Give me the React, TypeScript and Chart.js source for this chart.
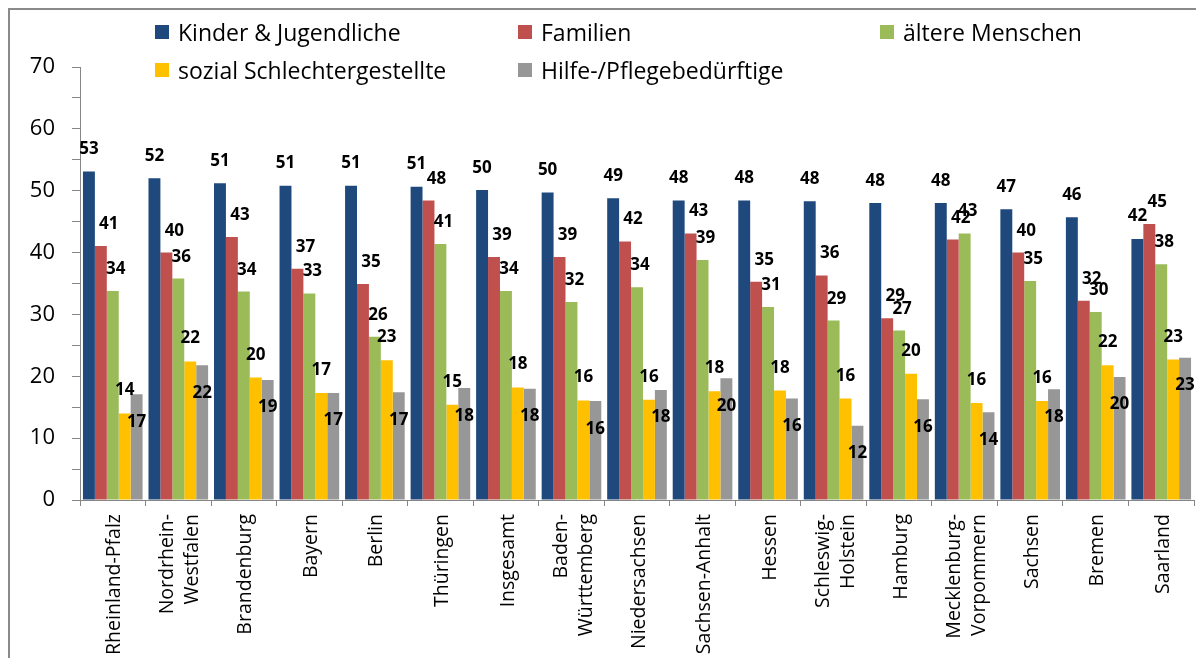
import React, { useEffect, useRef } from 'react';
import { Chart, registerables } from 'chart.js';

Chart.register(...registerables);

// ---- Data ----
const categories = [
  'Rheinland-Pfalz',
  'Nordrhein-\nWestfalen',
  'Brandenburg',
  'Bayern',
  'Berlin',
  'Thüringen',
  'Insgesamt',
  'Baden-\nWürttemberg',
  'Niedersachsen',
  'Sachsen-Anhalt',
  'Hessen',
  'Schleswig-\nHolstein',
  'Hamburg',
  'Mecklenburg-\nVorpommern',
  'Sachsen',
  'Bremen',
  'Saarland',
];

const seriesNames = [
  'Kinder & Jugendliche',
  'Familien',
  'ältere Menschen',
  'sozial Schlechtergestellte',
  'Hilfe-/Pflegebedürftige',
];

const kinderJugendliche = [53.1, 52.0, 51.2, 50.8, 50.8, 50.65, 50.1, 49.7, 48.8, 48.4, 48.4, 48.3, 48.0, 48.0, 47.0, 45.7, 42.2];
const familien = [41.06, 40.0, 42.5, 37.4, 34.9, 48.4, 39.3, 39.3, 41.8, 43.1, 35.3, 36.3, 29.4, 42.1, 40.0, 32.2, 44.6];
const aeltereMenschen = [33.8, 35.8, 33.7, 33.4, 26.4, 41.4, 33.8, 32.0, 34.4, 38.8, 31.2, 29.0, 27.4, 43.1, 35.4, 30.4, 38.1];
const sozialSchlechtergestellte = [14.0, 22.4, 19.8, 17.3, 22.6, 15.4, 18.2, 16.1, 16.2, 17.6, 17.7, 16.4, 20.4, 15.7, 16.0, 21.8, 22.7];
const hilfePflegebeduerftige = [17.1, 21.8, 19.4, 17.3, 17.4, 18.1, 18.0, 16.0, 17.8, 19.7, 16.4, 12.0, 16.3, 14.2, 17.9, 19.9, 23.0];

const seriesValues = [kinderJugendliche, familien, aeltereMenschen, sozialSchlechtergestellte, hilfePflegebeduerftige];

const titleText = 'Zielgruppen des Engagements nach Bundesländern';

// ---- Styles ----
const COLORS = ['#1F497D', '#C0504D', '#9BBB59', '#FFC000', '#979797'];
const AXIS = '#868686';
const FONT = '"Open Sans", sans-serif';
const LABEL_DX = [0, 8, 3, 0, 0];
const LABEL_DY = [-23.5, -23, -23, -24, 26.5];

const valueLabelsPlugin = {
  id: 'valueLabels',
  afterDatasetsDraw(chart: any) {
    const ctx = chart.ctx;
    ctx.save();
    ctx.font = `bold 17px ${FONT}`;
    ctx.fillStyle = '#000';
    ctx.textAlign = 'center';
    ctx.textBaseline = 'alphabetic';
    chart.data.datasets.forEach((ds: any, i: number) => {
      const meta = chart.getDatasetMeta(i);
      meta.data.forEach((bar: any, j: number) => {
        const v = ds.data[j];
        ctx.fillText(String(Math.round(v)), bar.x + LABEL_DX[i], bar.y + LABEL_DY[i] + 6);
      });
    });
    ctx.restore();
  },
};

const xLabelsPlugin = {
  id: 'xLabels',
  afterDraw(chart: any) {
    const ctx = chart.ctx;
    const xs = chart.scales.x;
    ctx.save();
    ctx.font = `19.5px ${FONT}`;
    ctx.fillStyle = '#000';
    ctx.textAlign = 'right';
    ctx.textBaseline = 'middle';
    categories.forEach((c, i) => {
      const lines = c.split('\n');
      const x = xs.getPixelForValue(i);
      const y = xs.top + 14;
      ctx.save();
      ctx.translate(x, y);
      ctx.rotate(-Math.PI / 2);
      lines.forEach((ln, j) => {
        ctx.fillText(ln, 0, (j - (lines.length - 1) / 2) * 25 + 2);
      });
      ctx.restore();
    });
    ctx.restore();
  },
};

function drawTitle(c: HTMLCanvasElement | null) {
  if (!c) return;
  const ctx = c.getContext('2d');
  if (!ctx) return;
  ctx.clearRect(0, 0, c.width, c.height);
  ctx.font = 'bold 30px "Liberation Serif", serif';
  ctx.fillStyle = '#000';
  ctx.textAlign = 'left';
  ctx.textBaseline = 'alphabetic';
  ctx.fillText(titleText, 115, 1);
}

export default function App() {
  const canvasRef = useRef<HTMLCanvasElement | null>(null);
  const titleRef = useRef<HTMLCanvasElement | null>(null);

  useEffect(() => {
    document.documentElement.style.overflow = 'hidden';
    drawTitle(titleRef.current);
    const canvas = canvasRef.current;
    if (!canvas) return;
    Chart.defaults.font.family = FONT;
    const chart = new Chart(canvas, {
      type: 'bar',
      data: {
        labels: categories,
        datasets: seriesValues.map((vals, i) => ({
          label: seriesNames[i],
          data: vals,
          backgroundColor: COLORS[i],
          borderWidth: 0,
          categoryPercentage: 0.91,
          barPercentage: 1.0,
        })),
      },
      options: {
        responsive: false,
        maintainAspectRatio: false,
        animation: false,
        layout: { padding: { top: 57, right: 10, left: 0, bottom: 0 } },
        plugins: {
          legend: { display: false },
          tooltip: { enabled: false },
          title: { display: false },
        },
        scales: {
          x: {
            type: 'category',
            offset: true,
            grid: {
              display: true,
              offset: true,
              drawOnChartArea: false,
              drawTicks: true,
              tickLength: 6,
              color: AXIS,
              lineWidth: 1,
            },
            border: { display: true, color: AXIS, width: 1 },
            ticks: { display: false },
            afterFit: (s: any) => {
              s.height = 158;
            },
          },
          y: {
            min: 0,
            max: 70,
            grid: {
              display: true,
              drawOnChartArea: false,
              drawTicks: true,
              tickLength: 8,
              color: AXIS,
              lineWidth: 1,
            },
            border: { display: true, color: AXIS, width: 1 },
            ticks: {
              stepSize: 5,
              padding: 17,
              color: '#000',
              font: { family: FONT, size: 22 },
              callback: (v: any) => (Number(v) % 10 === 0 ? String(v) : ''),
            },
            afterFit: (s: any) => {
              s.width = 70;
            },
          },
        },
      },
      plugins: [valueLabelsPlugin, xLabelsPlugin],
    } as any);
    if ((document as any).fonts && (document as any).fonts.ready) {
      (document as any).fonts.ready.then(() => {
        try {
          chart.draw();
          drawTitle(titleRef.current);
        } catch (e) {
          /* ignore */
        }
      });
    }
    return () => {
      chart.destroy();
    };
  }, []);

  const legendCols = [145, 508, 870];
  const legendRows = [22, 60];
  const legendPos = [
    [0, 0],
    [1, 0],
    [2, 0],
    [0, 1],
    [1, 1],
  ];

  return (
    <div
      style={{
        position: 'relative',
        width: 1196,
        height: 650,
        boxSizing: 'border-box',
        borderTop: '2px solid #8a8a8a',
        borderLeft: '2px solid #8a8a8a',
        background: '#fff',
      }}
    >
      <canvas
        ref={titleRef}
        width={1204}
        height={8}
        style={{ position: 'absolute', left: -10, top: -10, width: 1204, height: 8 }}
      />
      <canvas
        ref={canvasRef}
        width={1194}
        height={648}
        style={{ position: 'absolute', left: 0, top: 0, width: 1194, height: 648 }}
      />
      {seriesNames.map((name, i) => (
        <div
          key={name}
          style={{
            position: 'absolute',
            left: legendCols[legendPos[i][0]],
            top: legendRows[legendPos[i][1]] - 16,
            height: 32,
            display: 'flex',
            alignItems: 'center',
            whiteSpace: 'nowrap',
            fontFamily: FONT,
            fontSize: 23,
            lineHeight: '32px',
            color: '#000',
          }}
        >
          <span
            style={{
              display: 'inline-block',
              width: 14,
              height: 14,
              background: COLORS[i],
              marginRight: 9,
            }}
          />
          <span>{name}</span>
        </div>
      ))}
    </div>
  );
}
